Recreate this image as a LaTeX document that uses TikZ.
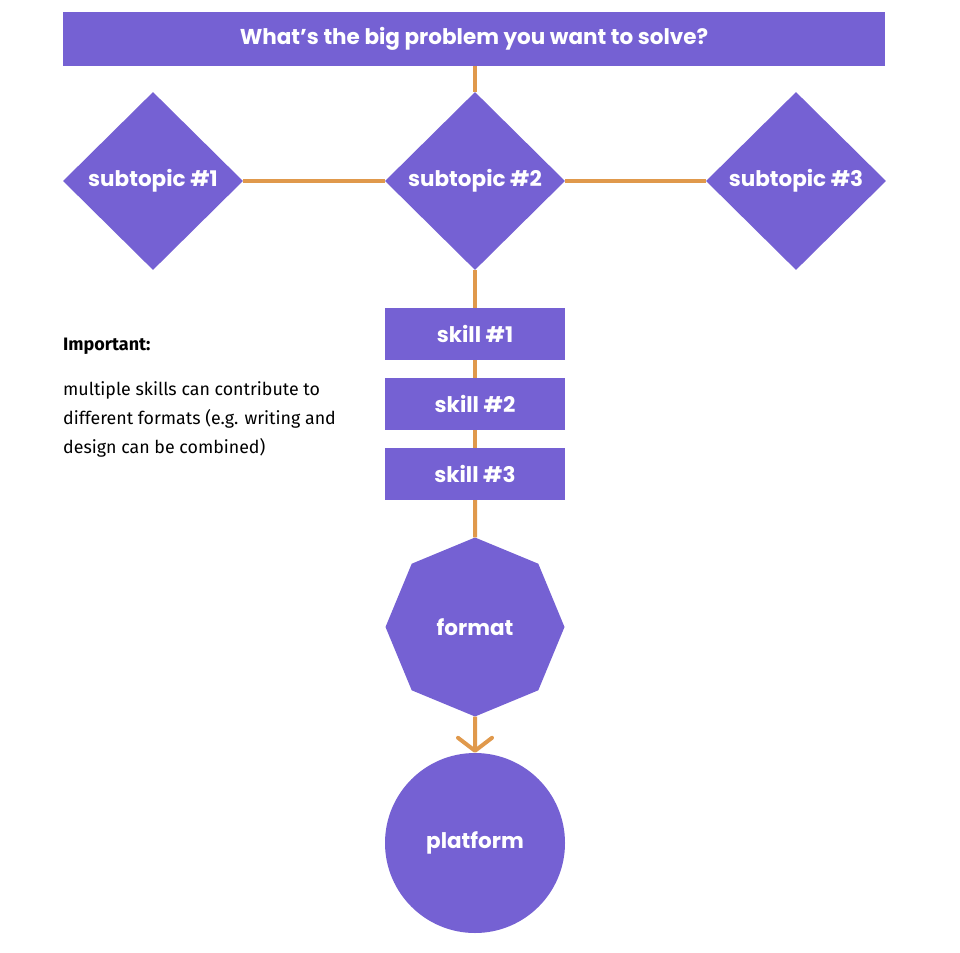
\documentclass[tikz,border=0pt]{standalone}
\usepackage{fontspec}
\setmainfont{Poppins}
\newfontfamily\notefont{Fira Sans}
\usetikzlibrary{shapes.geometric,arrows.meta}

\definecolor{boxpurple}{HTML}{7561D3}
\definecolor{linkorange}{HTML}{E0994C}

\tikzset{
    block/.style={fill=boxpurple, text=white, font=\bfseries\fontsize{21.5}{24}\selectfont, inner sep=0pt},
    link/.style={draw=linkorange, line width=4pt},
}

\begin{document}
\begin{tikzpicture}[x=1pt, y=-1pt]
    \useasboundingbox (0,0) rectangle (960,952);
    \node[block, minimum width=822, minimum height=54] (title) at (474,39) {What’s the big problem you want to solve?};
    \node[block, diamond, aspect=1, minimum width=180, minimum height=178] (sub1) at (153,181) {subtopic \#1};
    \node[block, diamond, aspect=1, minimum width=180, minimum height=178] (sub2) at (475,181) {subtopic \#2};
    \node[block, diamond, aspect=1, minimum width=180, minimum height=178] (sub3) at (796,181) {subtopic \#3};
    \node[block, minimum width=180, minimum height=52] (skill1) at (475,334) {skill \#1};
    \node[block, minimum width=180, minimum height=52] (skill2) at (475,404) {skill \#2};
    \node[block, minimum width=180, minimum height=52] (skill3) at (475,474) {skill \#3};
    \node[block, regular polygon, regular polygon sides=8, shape border rotate=22.5, minimum size=179] (format) at (475,627) {format};
    \node[block, circle, minimum size=180] (platform) at (475,843) {platform};

    \node[anchor=base west, inner sep=0pt, font=\notefont\bfseries\fontsize{18}{20}\selectfont] (imp) at (63,350) {Important:};
    \node[anchor=north west, inner sep=0pt, align=left, font=\notefont\fontsize{17.8}{29}\selectfont] (note) at (63,381)
        {multiple skills can contribute to\\different formats (e.g. writing and\\design can be combined)};

    \draw[link] (sub2.north |- title.south) -- (sub2);
    \draw[link] (sub1) -- (sub2);
    \draw[link] (sub2) -- (sub3);
    \draw[link] (sub2) -- (skill1);
    \draw[link] (skill1) -- (skill2);
    \draw[link] (skill2) -- (skill3);
    \draw[link] (skill3) -- (format);
    \draw[link, -{Straight Barb[length=13pt, width=34pt, round]}] (format) -- (platform);
\end{tikzpicture}
\end{document}
